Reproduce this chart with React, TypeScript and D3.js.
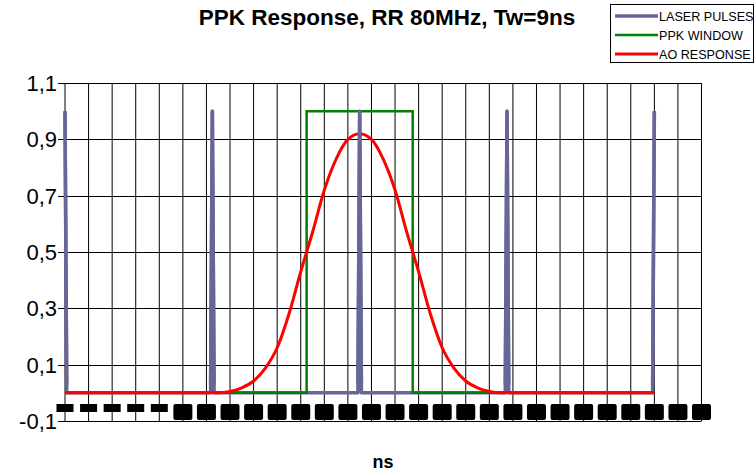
import React from 'react';
import * as d3 from 'd3';

// time axis ticks (ns) - labels render as black boxes in the original
const xTickValues = [0, 2, 4, 6, 8, 10, 12, 14, 16, 18, 20, 22, 24, 26, 28, 30, 32, 34, 36, 38, 40, 42, 44, 46, 48, 50, 52, 54];
const yTickValues = [1.1, 0.9, 0.7, 0.5, 0.3, 0.1, -0.1];
const yTickLabels = ['1,1', '0,9', '0,7', '0,5', '0,3', '0,1', '-0,1'];

// laser pulses, RR 80MHz -> every 12.5 ns
const laserNs = [0, 0.15, 12.35, 12.5, 12.65, 24.85, 25, 25.15, 37.35, 37.5, 37.65, 49.85, 50];
const laserVal = [1, 0, 0, 1, 0, 0, 1, 0, 0, 1, 0, 0, 1];

// PPK window, Tw = 9 ns
const ppkNs = [0, 20.5, 20.5, 29.5, 29.5, 50];
const ppkVal = [0, 0, 1, 1, 0, 0];

// AO response
const aoNs = [0, 12, 13, 14, 15, 16, 17, 18, 19, 20, 21, 22, 23, 24, 25, 26, 27, 28, 29, 30, 31, 32, 33, 34, 35, 36, 37, 38, 50];
const aoVal = [0, 0, 0, 0.005, 0.018, 0.042, 0.088, 0.16, 0.28, 0.43, 0.57, 0.72, 0.83, 0.9, 0.92, 0.9, 0.83, 0.72, 0.57, 0.43, 0.28, 0.16, 0.088, 0.042, 0.018, 0.005, 0, 0, 0];

const legendNames = ['LASER PULSES', 'PPK WINDOW', 'AO RESPONSE'];
const colors = ['#666699', '#008000', '#ff0000'];

const W = 755;
const H = 474;

export default function App() {
  const x = d3.scaleLinear().domain([0, 54]).range([65, 701.5]);
  const y = d3.scaleLinear().domain([-0.1, 1.1]).range([421, 83]);

  const toPts = (ns: number[], v: number[]) => ns.map((t, i) => [t, v[i]] as [number, number]);
  const line = d3.line<[number, number]>().x(d => x(d[0])).y(d => y(d[1]));
  const smooth = d3.line<[number, number]>().x(d => x(d[0])).y(d => y(d[1])).curve(d3.curveMonotoneX);

  const laserPath = line(toPts(laserNs, laserVal))!;
  const ppkPath = line(toPts(ppkNs, ppkVal))!;
  const aoPath = smooth(toPts(aoNs, aoVal))!;

  const [x0, x1] = x.range();
  const [yb, yt] = y.range();

  return (
    <svg width={W} height={H} style={{ position: 'absolute', left: 0, top: 0, background: '#fff' }}
      fontFamily="Liberation Sans, Arial, sans-serif">
      <defs>
        <clipPath id="above">
          <rect x={0} y={0} width={W} height={y(0.03)} />
        </clipPath>
      </defs>

      <text x={387} y={25} textAnchor="middle" fontSize={22.5} fontWeight="bold">
        PPK Response, RR 80MHz, Tw=9ns
      </text>

      {/* grid */}
      {xTickValues.map(t => (
        <line key={'vx' + t} x1={x(t)} x2={x(t)} y1={yt} y2={yb} stroke="#000" strokeWidth={1} />
      ))}
      {yTickValues.map(v => (
        <line key={'hy' + v} x1={x0 - 7} x2={x1} y1={Math.round(y(v)) + 0.5} y2={Math.round(y(v)) + 0.5}
          stroke="#000" strokeWidth={1} />
      ))}

      {yTickValues.map((v, i) => (
        <text key={'yl' + v} x={57} y={y(v)} dy="0.36em" textAnchor="end" fontSize={22}>
          {yTickLabels[i]}
        </text>
      ))}

      {/* x tick labels (drawn as black boxes like the source) */}
      {xTickValues.map(t => (
        t < 10
          ? <rect key={'xb' + t} x={x(t) - 8.5} y={404} width={17} height={8} fill="#000" />
          : <rect key={'xb' + t} x={x(t) - 9.5} y={404} width={19} height={16} rx={2} fill="#000" />
      ))}

      {/* series */}
      <path d={laserPath} fill="none" stroke={colors[0]} strokeWidth={3.5} strokeLinejoin="round" />
      <path d={ppkPath} fill="none" stroke={colors[1]} strokeWidth={2.5} />
      <path d={aoPath} fill="none" stroke={colors[2]} strokeWidth={3} />
      <path d={laserPath} fill="none" stroke={colors[0]} strokeWidth={3.5} strokeLinejoin="round" clipPath="url(#above)" />

      <text x={383} y={468} textAnchor="middle" fontSize={18} fontWeight="bold">ns</text>

      {/* legend */}
      <rect x={610.5} y={4.5} width={143} height={58} fill="#fff" stroke="#000" strokeWidth={1} />
      {legendNames.map((n, i) => (
        <g key={n}>
          <line x1={615} x2={658} y1={16 + i * 19} y2={16 + i * 19} stroke={colors[i]} strokeWidth={i === 0 ? 3.5 : i === 1 ? 2.5 : 3} />
          <text x={659} y={16 + i * 19} dy="0.36em" fontSize={12.6}>{n}</text>
        </g>
      ))}
    </svg>
  );
}
